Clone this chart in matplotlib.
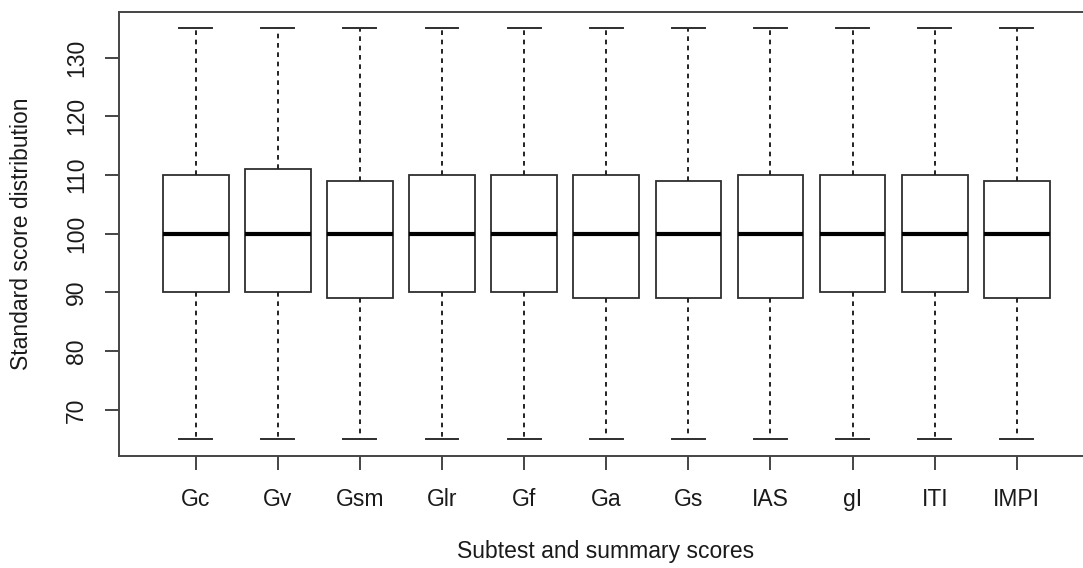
import matplotlib
matplotlib.use("Agg")
import matplotlib.pyplot as plt

# Standard-score summaries for each subtest / composite score
categories = ["Gc", "Gv", "Gsm", "Glr", "Gf", "Ga", "Gs", "IAS", "gI", "ITI", "IMPI"]
whisker_low = [65, 65, 65, 65, 65, 65, 65, 65, 65, 65, 65]
q1 = [90, 90, 89, 90, 90, 89, 89, 89, 90, 90, 89]
median = [100, 100, 100, 100, 100, 100, 100, 100, 100, 100, 100]
q3 = [110, 111, 109, 110, 110, 110, 109, 110, 110, 110, 109]
whisker_high = [135, 135, 135, 135, 135, 135, 135, 135, 135, 135, 135]
y_ticks = [70, 80, 90, 100, 110, 120, 130]

plt.rcParams["font.family"] = ["Liberation Sans", "DejaVu Sans"]

W, H = 1083, 568
fig = plt.figure(figsize=(W / 100, H / 100), dpi=100)
# plot region in pixel coordinates (right border runs just past the canvas)
left, right, top, bottom = 118.5, 1094.0, 11.7, 455.7
ax = fig.add_axes([left / W, 1 - bottom / H, (right - left) / W, (bottom - top) / H])

stats = []
for i, name in enumerate(categories):
    stats.append(dict(label=name, whislo=whisker_low[i], q1=q1[i], med=median[i],
                      q3=q3[i], whishi=whisker_high[i], fliers=[]))

positions = list(range(1, len(categories) + 1))
edge = "#2e2e2e"
ax.bxp(stats, positions=positions, widths=0.8, showfliers=False, patch_artist=True,
       boxprops=dict(facecolor="white", edgecolor=edge, linewidth=1.3),
       medianprops=dict(color="black", linewidth=3.0, solid_capstyle="butt"),
       whiskerprops=dict(color="#222222", linewidth=1.4, linestyle=(0, (2.4, 2.4))),
       capprops=dict(color=edge, linewidth=1.4),
       capwidths=0.4)

n = len(categories)
span = n
ax.set_xlim(0.5 - 0.04 * span, n + 0.5 + 0.04 * span)
ylo, yhi = min(whisker_low), max(whisker_high)
yr = yhi - ylo
ax.set_ylim(ylo - 0.04 * yr, yhi + 0.04 * yr)

ax.set_xticks(positions)
ax.set_xticklabels(categories)
ax.set_yticks(y_ticks)
ax.set_yticklabels([str(v) for v in y_ticks], rotation=90, va="center")

spine_col = "#444444"
for s in ax.spines.values():
    s.set_color(spine_col)
    s.set_linewidth(1.4)
ax.tick_params(axis="both", length=10, width=1.4, color=spine_col,
               labelsize=16.5, labelcolor="#1a1a1a")
ax.tick_params(axis="x", pad=13)
ax.tick_params(axis="y", pad=12)

fig.text(22 / W, 1 - 233.7 / H, "Standard score distribution", rotation=90,
         ha="center", va="center", fontsize=16.5, color="#1a1a1a")
fig.text(606 / W, 1 - 558 / H, "Subtest and summary scores", ha="center",
         va="baseline", fontsize=16.5, color="#1a1a1a")

fig.savefig("out.png", dpi=100, facecolor="white")
